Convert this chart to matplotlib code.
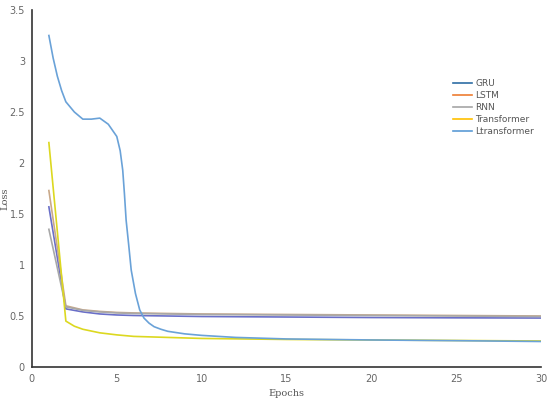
import matplotlib.pyplot as plt
from matplotlib.lines import Line2D

# epochs / loss values
ep_rnn = [1, 2, 3, 4, 5, 6, 8, 10, 15, 20, 25, 30]
gru = [1.57, 0.57, 0.54, 0.52, 0.51, 0.505, 0.5, 0.495, 0.49, 0.485, 0.482, 0.48]
lstm = [1.73, 0.60, 0.56, 0.545, 0.535, 0.53, 0.525, 0.52, 0.515, 0.51, 0.505, 0.50]
rnn = [1.35, 0.59, 0.555, 0.54, 0.53, 0.525, 0.52, 0.515, 0.51, 0.505, 0.50, 0.495]

ep_tr = [1, 2, 2.5, 3, 4, 5, 6, 8, 10, 15, 20, 25, 30]
transformer = [2.2, 0.45, 0.40, 0.37, 0.335, 0.315, 0.30, 0.29, 0.28, 0.27, 0.265, 0.26, 0.255]

ep_lt = [1, 1.25, 1.5, 1.75, 2, 2.5, 3, 3.5, 4, 4.5, 5, 5.2, 5.35, 5.45, 5.55, 5.7, 5.85, 6.1, 6.35,
         6.6, 6.9, 7.2, 7.6, 8, 9, 10, 12, 15, 20, 25, 30]
ltransformer = [3.25, 3.03, 2.85, 2.71, 2.6, 2.5, 2.43, 2.43, 2.44, 2.38, 2.26, 2.12, 1.93, 1.7, 1.44,
                1.2, 0.95, 0.72, 0.56, 0.48, 0.43, 0.395, 0.37, 0.35, 0.325, 0.31, 0.29, 0.275,
                0.265, 0.258, 0.25]

fig, ax = plt.subplots(figsize=(5.5, 4), dpi=100)
fig.subplots_adjust(left=0.058, right=0.984, top=0.975, bottom=0.0825)

ax.plot(ep_rnn, gru, label="GRU", color="#6a6fc8", lw=1.2)
ax.plot(ep_rnn, lstm, label="LSTM", color="#c9a98a", lw=1.2)
ax.plot(ep_rnn, rnn, label="RNN", color="#a8a8a8", lw=1.2)
ax.plot(ep_tr, transformer, label="Transformer", color="#dcd820", lw=1.2)
ax.plot(ep_lt, ltransformer, label="Ltransformer", color="#6aa2d8", lw=1.2)

ax.set_xlim(0, 30)
ax.set_ylim(0, 3.5)
ax.set_xticks([0, 5, 10, 15, 20, 25, 30])
ax.set_yticks([0, 0.5, 1, 1.5, 2, 2.5, 3, 3.5])
ax.set_yticklabels(["0", "0.5", "1", "1.5", "2", "2.5", "3", "3.5"])
ax.tick_params(length=0, labelsize=7, colors="#666666", pad=5)

for s in ["top", "right"]:
    ax.spines[s].set_visible(False)
for s in ["left", "bottom"]:
    ax.spines[s].set_color("#333333")
    ax.spines[s].set_linewidth(1.2)

ax.set_xlabel("Epochs", family="DejaVu Serif", fontsize=7, color="#555555")
ax.set_ylabel("Loss", family="DejaVu Serif", fontsize=7, color="#555555")
ax.yaxis.set_label_coords(-0.045, 0.47)

leg_colors = ["#2e6da4", "#ed7d31", "#a5a5a5", "#ffc000", "#5b9bd5"]
handles = [Line2D([], [], color=c, lw=1.2) for c in leg_colors]
ax.legend(handles, [l.get_label() for l in ax.get_lines()], loc="upper left",
          bbox_to_anchor=(0.81, 0.83), frameon=False, fontsize=6.5,
          handlelength=2.2, handletextpad=0.3, labelspacing=0.35, labelcolor="#555555")

plt.savefig("out.png")
